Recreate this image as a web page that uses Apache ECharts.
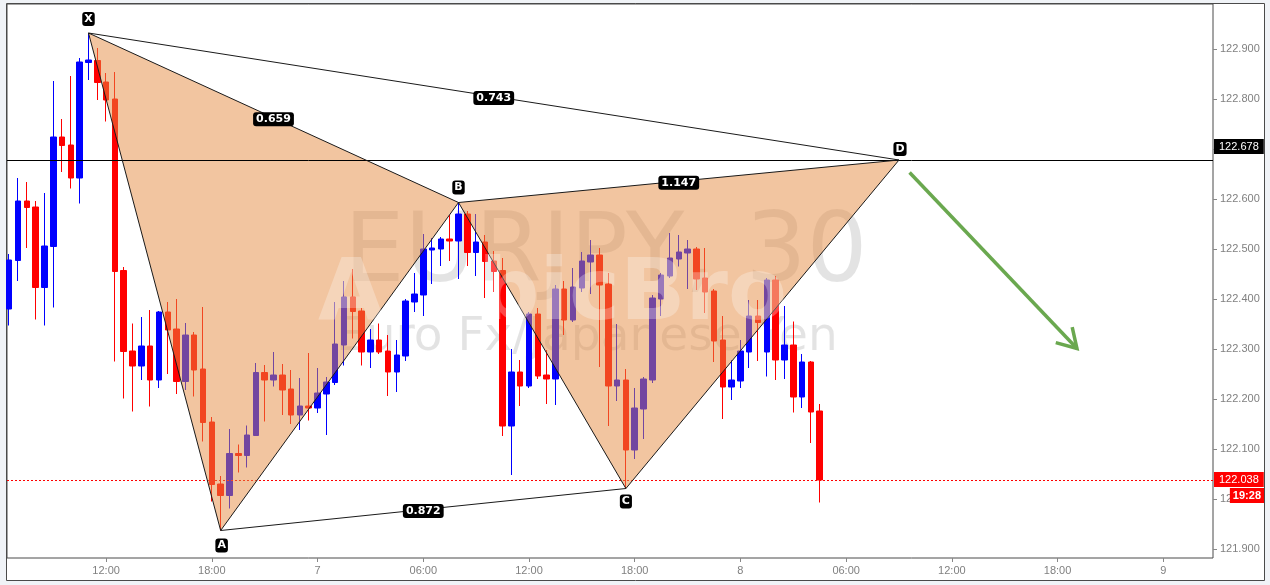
<!DOCTYPE html>
<html><head><meta charset="utf-8">
<script src="https://cdn.jsdelivr.net/npm/echarts@6/dist/echarts.min.js"></script>
<style>html,body{margin:0;padding:0;background:#f0f3f7}#c{width:1270px;height:585px}</style>
</head><body><div id="c"></div>
<script>
// 30-minute candles, index 0 = day 6 06:30
const openP = [122.380,122.477,122.596,122.584,122.423,122.505,122.724,122.708,122.642,122.873,
122.877,122.834,122.800,122.457,122.296,122.266,122.306,122.238,122.374,122.340,
122.235,122.328,122.260,122.154,122.030,122.007,122.091,122.087,122.127,122.253,
122.238,122.248,122.220,122.168,122.186,122.182,122.210,122.233,122.308,122.404,
122.376,122.294,122.318,122.296,122.254,122.286,122.394,122.408,122.498,122.500,
122.520,122.516,122.570,122.493,122.514,122.476,122.457,122.146,122.254,122.226,
122.370,122.248,122.240,122.420,122.358,122.422,122.474,122.488,122.430,122.226,
122.238,122.098,122.180,122.238,122.400,122.446,122.480,122.492,122.500,122.442,
122.416,122.318,122.224,122.236,122.294,122.366,122.294,122.438,122.278,122.308,
122.204,122.274,122.176];
const closeP = [122.478,122.596,122.583,122.423,122.506,122.724,122.707,122.642,122.874,122.878,
122.833,122.798,122.455,122.295,122.266,122.306,122.238,122.374,122.338,122.235,
122.328,122.258,122.153,122.029,122.007,122.091,122.087,122.128,122.253,122.238,
122.248,122.218,122.168,122.186,122.182,122.212,122.234,122.310,122.404,122.375,
122.294,122.318,122.294,122.254,122.288,122.396,122.410,122.500,122.502,122.520,
122.516,122.570,122.493,122.514,122.475,122.455,122.146,122.254,122.226,122.370,
122.246,122.240,122.420,122.358,122.424,122.476,122.488,122.428,122.226,122.238,
122.098,122.182,122.240,122.402,122.448,122.482,122.494,122.500,122.440,122.414,
122.316,122.224,122.238,122.296,122.366,122.353,122.438,122.278,122.308,122.204,
122.274,122.174,122.038];
const lowP = [122.347,122.436,122.502,122.359,122.347,122.383,122.654,122.621,122.591,122.838,
122.798,122.755,122.275,122.201,122.175,122.238,122.185,122.222,122.250,122.210,
122.218,122.205,122.115,121.995,121.937,121.981,122.053,122.063,122.127,122.155,
122.225,122.168,122.150,122.138,122.157,122.172,122.128,122.228,122.267,122.321,
122.267,122.262,122.290,122.206,122.214,122.276,122.374,122.366,122.430,122.466,
122.476,122.440,122.466,122.446,122.402,122.414,122.126,122.048,122.186,122.222,
122.240,122.190,122.188,122.328,122.354,122.414,122.410,122.264,122.146,122.196,
122.021,122.080,122.120,122.232,122.366,122.442,122.465,122.420,122.418,122.372,
122.274,122.160,122.198,122.222,122.262,122.276,122.245,122.238,122.240,122.173,
122.182,122.112,121.993];
const highP = [122.490,122.642,122.634,122.596,122.612,122.836,122.760,122.846,122.882,122.932,
122.902,122.852,122.854,122.464,122.351,122.364,122.378,122.376,122.394,122.400,
122.352,122.334,122.384,122.164,122.046,122.140,122.109,122.147,122.272,122.268,
122.294,122.270,122.258,122.242,122.292,122.262,122.244,122.394,122.436,122.460,
122.382,122.340,122.351,122.328,122.318,122.400,122.452,122.530,122.522,122.524,
122.568,122.593,122.576,122.570,122.528,122.496,122.482,122.300,122.278,122.374,
122.382,122.298,122.428,122.436,122.462,122.494,122.518,122.502,122.452,122.350,
122.260,122.222,122.244,122.408,122.452,122.532,122.528,122.518,122.504,122.502,
122.420,122.366,122.278,122.318,122.398,122.398,122.442,122.446,122.386,122.355,
122.290,122.276,122.190];

const xTickIdx = [11,23,35,47,59,71,83,95,107,119,131];
const xTickLabels = ['12:00','18:00','7','06:00','12:00','18:00','8','06:00','12:00','18:00','9'];
const yTicks = [121.9,122.0,122.1,122.2,122.3,122.4,122.5,122.6,122.7,122.8,122.9];

const patternNames = ['X','A','B','C','D'];
const patternIdx = [9,24,51,70,101];
const patternPrice = [122.932,121.937,122.593,122.021,122.678];
const ratioLabels = ['0.659','0.743','1.147','0.872']; // XB, XD, BD, AC
const arrowFrom = [102.2,122.653];
const arrowTo = [121.2,122.301];
const lastPrice = 122.038;
const dLevel = 122.678;
const countdown = '19:28';

const candles = openP.map((o,i)=>[i,o,closeP[i],lowP[i],highP[i]]);

function renderAnn(params, api){
  const cs = params.coordSys;
  const left = cs.x, right = cs.x + cs.width;
  const P = patternIdx.map((k,i)=>api.coord([k, patternPrice[i]]));
  const [X,A,B,C,D] = P;
  const fill = 'rgba(230,140,65,0.5)';
  const stroke = '#1a1a1a';
  const ch = [];
  const yD = Math.floor(api.coord([0,dLevel])[1]) + 0.5;
  const yL = Math.floor(api.coord([0,lastPrice])[1]) + 0.5;
  ch.push({type:'line', shape:{x1:left,y1:yL,x2:right,y2:yL}, style:{stroke:'#ff0000',lineWidth:1,lineDash:[2,2]}});
  ch.push({type:'polygon', shape:{points:[X,A,B]}, style:{fill:fill}});
  ch.push({type:'polygon', shape:{points:[B,C,D]}, style:{fill:fill}});
  ch.push({type:'line', shape:{x1:left,y1:yD,x2:right,y2:yD}, style:{stroke:'#000',lineWidth:1}});
  [[X,A],[A,B],[B,X],[X,D],[A,C],[B,C],[C,D],[B,D]].forEach(function(s){
    ch.push({type:'line', shape:{x1:s[0][0],y1:s[0][1],x2:s[1][0],y2:s[1][1]}, style:{stroke:stroke,lineWidth:1}});
  });
  const lab = (x,y,t,pad)=>({type:'text', x:x, y:y, style:{text:t, fill:'#fff', font:'bold 11px "DejaVu Sans"', align:'center', verticalAlign:'middle', backgroundColor:'#000', borderRadius:3, padding:pad}});
  [[X,B],[X,D],[B,D],[A,C]].forEach(function(s,i){
    ch.push(lab((s[0][0]+s[1][0])/2, (s[0][1]+s[1][1])/2 + 1.5, ratioLabels[i], [2,3,1,3]));
  });
  const offs = [[0,-14],[1,15],[0,-15],[0,13],[1,-11]];
  P.forEach(function(p,i){ ch.push(lab(p[0]+offs[i][0], p[1]+offs[i][1], patternNames[i], [2,2,1,2])); });
  // arrow
  const s = api.coord(arrowFrom), t = api.coord(arrowTo);
  const ang = Math.atan2(s[1]-t[1], s[0]-t[0]);
  const L = 22, sp = 31*Math.PI/180;
  const h1 = [t[0]+L*Math.cos(ang+sp), t[1]+L*Math.sin(ang+sp)];
  const h2 = [t[0]+L*Math.cos(ang-sp), t[1]+L*Math.sin(ang-sp)];
  ch.push({type:'polyline', shape:{points:[s,t]}, style:{stroke:'#6aa84f',lineWidth:3.5,fill:null}});
  ch.push({type:'polyline', shape:{points:[h1,t,h2]}, style:{stroke:'#6aa84f',lineWidth:3.5,fill:null}});
  // axis badges
  ch.push({type:'text', x:right+1, y:yD-14, style:{text:dLevel.toFixed(3), fill:'#fff', font:'11px "Liberation Sans"', align:'left', verticalAlign:'middle', backgroundColor:'#000', padding:[2,5,2,5]}});
  ch.push({type:'text', x:right+1, y:yL-1, style:{text:lastPrice.toFixed(3), fill:'#fff', font:'11px "Liberation Sans"', align:'left', verticalAlign:'middle', backgroundColor:'#ff0000', padding:[2,5,2,5]}});
  ch.push({type:'text', x:right+51, y:yL+15, style:{text:countdown, fill:'#fff', font:'bold 11px "Liberation Sans"', align:'right', verticalAlign:'middle', backgroundColor:'#ff0000', padding:[2,3,2,3]}});
  return {type:'group', children:ch};
}

const chart = echarts.init(document.getElementById('c'), null, {renderer:'canvas'});
chart.setOption({
  animation:false,
  backgroundColor:'#f0f3f7',
  grid:{left:7, top:4, right:57, bottom:27, show:true, backgroundColor:'#fff', borderColor:'#4a4a4a', borderWidth:1},
  xAxis:{type:'value', min:-0.25, max:136.64, splitLine:{show:false}, axisLine:{show:false, onZero:false},
    axisTick:{show:true, customValues:xTickIdx, length:4, lineStyle:{color:'#888'}},
    axisLabel:{customValues:xTickIdx, formatter:function(v){const i=xTickIdx.indexOf(Math.round(v));return i>=0?xTickLabels[i]:'';}, color:'#808080', fontSize:11, fontFamily:'Liberation Sans', margin:7}},
  yAxis:{type:'value', position:'right', min:121.882, max:122.99, splitLine:{show:false}, axisLine:{show:false, onZero:false},
    axisTick:{show:true, customValues:yTicks, length:4, lineStyle:{color:'#888'}},
    axisLabel:{customValues:yTicks, formatter:function(v){return v.toFixed(3);}, color:'#808080', fontSize:11, fontFamily:'Liberation Sans', margin:7}},
  graphic:[
    {type:'rect', z:-1, silent:true, shape:{x:6.5,y:3.5,width:1258,height:577}, style:{fill:'#fff', stroke:'#4a4a4a', lineWidth:1}},
    {type:'text', z:1, silent:true, x:344, y:256, style:{text:'EURJPY, 30', font:'96px "DejaVu Sans"', fill:'rgba(0,0,0,0.11)', verticalAlign:'middle'}},
    {type:'text', z:1, silent:true, x:336, y:338, style:{text:'Euro Fx/Japanese Yen', font:'47px "DejaVu Sans"', fill:'rgba(0,0,0,0.11)', verticalAlign:'middle'}},
    {type:'text', z:20, silent:true, x:318, y:297, style:{text:'A', font:'bold 86px "DejaVu Sans"', fill:'rgba(255,255,255,0.28)', verticalAlign:'middle'}},
    {type:'text', z:20, silent:true, x:478, y:297, style:{text:'bicBro', font:'bold 86px "DejaVu Sans"', fill:'rgba(255,255,255,0.28)', verticalAlign:'middle'}}
  ],
  series:[
    {type:'candlestick', data:candles, encode:{x:0, y:[1,2,3,4]}, barWidth:6, z:2,
      itemStyle:{color:'#0000ff', color0:'#ff0000', borderColor:'#0000ff', borderColor0:'#ff0000', borderWidth:1}},
    {type:'custom', z:5, silent:true, clip:false, data:[[patternIdx[0], patternPrice[0]]], encode:{x:0,y:1}, renderItem:renderAnn}
  ]
});
</script></body></html>
